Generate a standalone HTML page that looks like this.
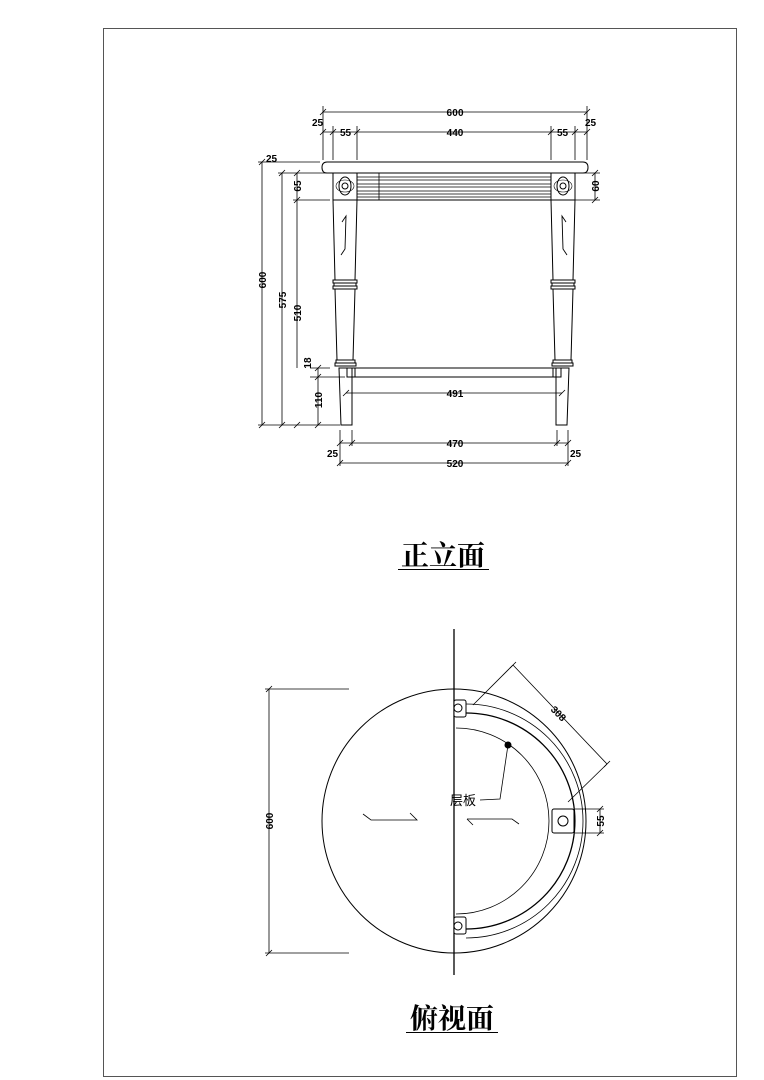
<!DOCTYPE html>
<html><head><meta charset="utf-8"><style>
html,body{margin:0;padding:0;background:#fff;}
svg{display:block;}
text{font-family:"Liberation Sans",sans-serif;font-weight:bold;font-size:10px;fill:#000;}
</style></head><body>
<svg width="764" height="1080" viewBox="0 0 764 1080" xmlns="http://www.w3.org/2000/svg" stroke="#000" fill="none" stroke-width="1">
<rect x="103.5" y="28.5" width="633" height="1048" stroke="#555"/>
<defs>
<g id="tk"><line x1="-3" y1="3" x2="3" y2="-3"/></g>
<g id="leg">
<path d="M333,200 L357,200 L355,280 L335,280 Z"/>
<rect x="333" y="280" width="24" height="3"/><rect x="334" y="283" width="22" height="3"/><rect x="333" y="286" width="24" height="3"/>
<path d="M335,289 L355,289 L353,360 L337,360 Z"/>
<rect x="336" y="360" width="19" height="3"/><rect x="335" y="363" width="21" height="3"/>
<path d="M339,368 L352,368 L352,425 L341,425 Z"/>
<path d="M342,222 L346,216 L345,249 L341,255" stroke-width="0.9"/>
<rect x="333" y="173" width="24" height="27"/>
<ellipse cx="345" cy="186" rx="6" ry="9"/><circle cx="345" cy="186" r="3"/><ellipse cx="345" cy="186" rx="9" ry="6" stroke-width="0.6"/>
</g>
</defs>
<!-- front elevation -->
<path d="M327,162 L583,162 Q588,162 588,167.5 Q588,173 583,173 L327,173 Q322,173 322,167.5 Q322,162 327,162 Z"/>
<rect x="357" y="173" width="194" height="27"/>
<g stroke-width="0.8">
<line x1="357" y1="177" x2="551" y2="177"/><line x1="357" y1="180" x2="551" y2="180"/><line x1="357" y1="184" x2="551" y2="184"/><line x1="357" y1="187" x2="551" y2="187"/><line x1="357" y1="191" x2="551" y2="191"/><line x1="357" y1="194" x2="551" y2="194"/><line x1="357" y1="197" x2="551" y2="197"/>
<line x1="379" y1="173" x2="379" y2="200"/>
</g>
<use href="#leg"/>
<use href="#leg" transform="translate(908,0) scale(-1,1)"/>
<rect x="347" y="368" width="214" height="9"/>
<line x1="355" y1="368" x2="355" y2="377"/><line x1="553" y1="368" x2="553" y2="377"/>
<g stroke-width="0.8">
<line x1="323" y1="112" x2="587" y2="112"/>
<line x1="323" y1="106" x2="323" y2="160"/><line x1="587" y1="106" x2="587" y2="160"/>
<line x1="323" y1="132" x2="587" y2="132"/>
<line x1="333" y1="126" x2="333" y2="160"/><line x1="357" y1="126" x2="357" y2="160"/>
<line x1="551" y1="126" x2="551" y2="160"/><line x1="575" y1="126" x2="575" y2="160"/>
<use href="#tk" x="323" y="112"/><use href="#tk" x="587" y="112"/>
<use href="#tk" x="323" y="132"/><use href="#tk" x="333" y="132"/><use href="#tk" x="357" y="132"/><use href="#tk" x="551" y="132"/><use href="#tk" x="575" y="132"/><use href="#tk" x="587" y="132"/>
<line x1="262" y1="162" x2="262" y2="425"/><line x1="282" y1="173" x2="282" y2="425"/><line x1="297" y1="173" x2="297" y2="368"/><line x1="318" y1="368" x2="318" y2="425"/>
<line x1="258" y1="162" x2="320" y2="162"/><line x1="278" y1="173" x2="330" y2="173"/><line x1="293" y1="200" x2="330" y2="200"/>
<line x1="310" y1="368" x2="330" y2="368"/><line x1="310" y1="377" x2="345" y2="377"/>
<line x1="258" y1="425" x2="340" y2="425"/>
<use href="#tk" x="262" y="162"/><use href="#tk" x="262" y="425"/><use href="#tk" x="282" y="173"/><use href="#tk" x="282" y="425"/>
<use href="#tk" x="297" y="173"/><use href="#tk" x="297" y="200"/><use href="#tk" x="297" y="425"/>
<use href="#tk" x="318" y="368"/><use href="#tk" x="318" y="377"/><use href="#tk" x="318" y="425"/>
<line x1="575" y1="173" x2="600" y2="173"/><line x1="575" y1="200" x2="600" y2="200"/><line x1="595" y1="173" x2="595" y2="200"/>
<use href="#tk" x="595" y="173"/><use href="#tk" x="595" y="200"/>
<line x1="346" y1="393" x2="562" y2="393"/><use href="#tk" x="346" y="393"/><use href="#tk" x="562" y="393"/>
<line x1="340" y1="430" x2="340" y2="466"/><line x1="352" y1="430" x2="352" y2="446"/>
<line x1="557" y1="430" x2="557" y2="446"/><line x1="568" y1="430" x2="568" y2="466"/>
<line x1="340" y1="443" x2="568" y2="443"/><line x1="340" y1="463" x2="568" y2="463"/>
<use href="#tk" x="340" y="443"/><use href="#tk" x="352" y="443"/><use href="#tk" x="557" y="443"/><use href="#tk" x="568" y="443"/>
<use href="#tk" x="340" y="463"/><use href="#tk" x="568" y="463"/>
</g>
<g stroke="none" style="font-stretch:condensed">
<text x="455" y="116" text-anchor="middle" textLength="17">600</text>
<text x="312" y="126" font-size="10">25</text><text x="340" y="136" font-size="10">55</text>
<text x="455" y="136" text-anchor="middle">440</text>
<text x="557" y="136" font-size="10">55</text><text x="585" y="126" font-size="10">25</text>
<text x="266" y="162" font-size="9">25</text>
<text x="455" y="397" text-anchor="middle">491</text>
<text x="455" y="447" text-anchor="middle">470</text>
<text x="455" y="467" text-anchor="middle">520</text>
<text x="327" y="457" font-size="10">25</text><text x="570" y="457" font-size="10">25</text>
<text transform="translate(266,280) rotate(-90)" text-anchor="middle">600</text>
<text transform="translate(286,300) rotate(-90)" text-anchor="middle">575</text>
<text transform="translate(301,186) rotate(-90)" text-anchor="middle">65</text>
<text transform="translate(301,313) rotate(-90)" text-anchor="middle">510</text>
<text transform="translate(311,363) rotate(-90)" text-anchor="middle" font-size="9">18</text>
<text transform="translate(322,400) rotate(-90)" text-anchor="middle">110</text>
<text transform="translate(599,186) rotate(-90)" text-anchor="middle">60</text>
<text x="443" y="565" text-anchor="middle" style="font-family:'Liberation Serif','Noto Serif CJK SC',serif;font-size:28px;font-weight:bold">正立面</text>
<text x="452" y="1028" text-anchor="middle" style="font-family:'Liberation Serif','Noto Serif CJK SC',serif;font-size:28px;font-weight:bold">俯视面</text>
</g>
<line x1="398" y1="569.5" x2="489" y2="569.5"/>
<line x1="406" y1="1032.5" x2="498" y2="1032.5"/>
<circle cx="454" cy="821" r="132"/>
<line x1="454" y1="629" x2="454" y2="975" stroke-width="1.3"/>
<g stroke-width="0.8">
<path d="M466,704 A117,117 0 0 1 466,938"/>
<path d="M466,713 A109,108 0 0 1 466,929" stroke-width="1.3"/>
<path d="M456,728 A93,93 0 0 1 456,914"/>
</g>
<rect x="454" y="700" width="12" height="17" rx="2" fill="#fff"/><circle cx="458" cy="708" r="4"/>
<rect x="552" y="809" width="22" height="24" rx="2" fill="#fff"/><circle cx="563" cy="821" r="5"/>
<rect x="454" y="917" width="12" height="17" rx="2" fill="#fff"/><circle cx="458" cy="926" r="4"/>
<g stroke-width="0.8">
<line x1="269" y1="689" x2="269" y2="953"/><line x1="265" y1="689" x2="349" y2="689"/><line x1="265" y1="953" x2="349" y2="953"/>
<use href="#tk" x="269" y="689"/><use href="#tk" x="269" y="953"/>
<line x1="513" y1="665" x2="607" y2="764"/><line x1="473" y1="705" x2="513" y2="665"/><line x1="568" y1="802" x2="607" y2="764"/>
<use href="#tk" x="513" y="665"/><use href="#tk" x="607" y="764"/>
<line x1="575" y1="809" x2="604" y2="809"/><line x1="575" y1="833" x2="604" y2="833"/><line x1="600" y1="809" x2="600" y2="833"/>
<use href="#tk" x="600" y="833"/><use href="#tk" x="600" y="809"/>
<polyline points="508,745 500,799 480,800"/>
<polyline points="363,814 371,820 417,820 410,813"/>
<polyline points="467,819 512,819 519,824"/><line x1="467" y1="819" x2="473" y2="825"/>
</g>
<circle cx="508" cy="745" r="3.5" fill="#000" stroke="none"/>
<g stroke="none">
<text x="450" y="805" style="font-family:'Liberation Sans','Noto Sans CJK SC',sans-serif;font-size:13px;font-weight:normal">层板</text>
<text transform="translate(556,716) rotate(45)" text-anchor="middle">308</text>
<text transform="translate(604,821) rotate(-90)" text-anchor="middle">55</text>
<text transform="translate(273,821) rotate(-90)" text-anchor="middle">600</text>
</g>
</svg>
</body></html>
